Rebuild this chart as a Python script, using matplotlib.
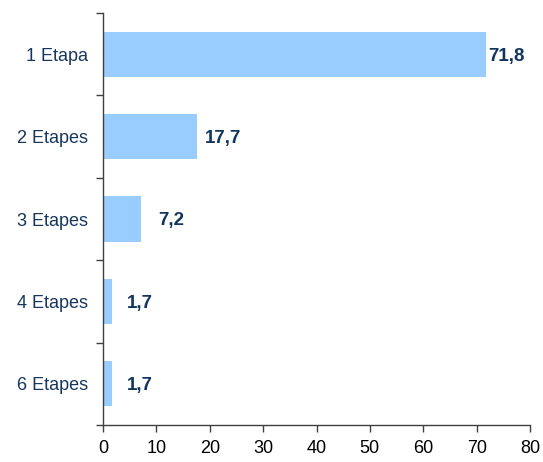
import matplotlib
matplotlib.use("Agg")
import matplotlib.pyplot as plt
import numpy as np

categories = ["1 Etapa", "2 Etapes", "3 Etapes", "4 Etapes", "6 Etapes"]
values = [71.8, 17.7, 7.2, 1.7, 1.7]
value_labels = ["71,8", "17,7", "7,2", "1,7", "1,7"]
label_offsets = [0.4, 1.4, 3.1, 2.8, 2.8]
xticks = [0, 10, 20, 30, 40, 50, 60, 70, 80]

plt.rcParams['font.family'] = ['Liberation Sans', 'DejaVu Sans']

fig = plt.figure(figsize=(5.43, 4.62), dpi=100)
ax = fig.add_axes([103/543, 37/462, 427/543, 412/462])

n = len(categories)
y = np.arange(n)
ax.barh(y, values, height=0.55, color="#99CCFF", zorder=2)
ax.set_ylim(n - 0.5, -0.5)
ax.set_xlim(0, 80)

for yi, v, lab, off in zip(y, values, value_labels, label_offsets):
    ax.text(v + off, yi, lab, va="center_baseline", ha="left", fontsize=13.5,
            fontweight="bold", color="#12355E")

ax.set_xticks(xticks)
ax.set_xticklabels([str(t) for t in xticks], fontsize=13, color="black")
ax.tick_params(axis="x", direction="out", length=5, width=1, color="#404040", pad=6)

ax.set_yticks(np.arange(-0.5, n, 1.0))
ax.set_yticklabels([])
ax.tick_params(axis="y", direction="out", length=5, width=1, color="#404040")
for yi, c in zip(y, categories):
    ax.text(-2.8, yi, c, ha="right", va="center_baseline", fontsize=13, color="#17375E")

for s in ["top", "right"]:
    ax.spines[s].set_visible(False)
for s in ["left", "bottom"]:
    ax.spines[s].set_color("#404040")
    ax.spines[s].set_linewidth(1)

fig.savefig("out.png", dpi=100)
